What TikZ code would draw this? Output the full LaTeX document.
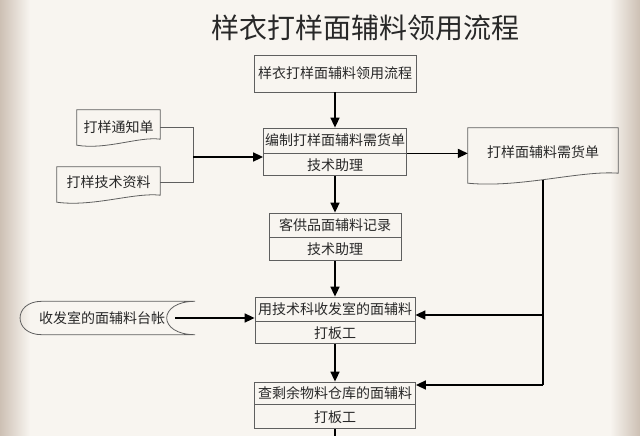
\documentclass[tikz,border=0pt]{standalone}
\usepackage{fontspec}
\newfontfamily\cjk{Noto Sans CJK SC}
\usepackage{tikz}
\usetikzlibrary{arrows.meta,positioning,calc}
\definecolor{paper}{RGB}{248,245,240}
\definecolor{shade}{RGB}{205,192,180}
\definecolor{edge}{RGB}{95,95,95}
\definecolor{ink}{RGB}{40,40,40}
\newcommand{\docoutline}[3]{%
  \draw [docline] (#1.north west) -- (#1.north east) -- ([yshift=#3]#1.south east)
    .. controls ([yshift=#3+3pt]$(#1.south west)!0.75!(#1.south east)$) and ([yshift=-#2-5pt]$(#1.south west)!0.35!(#1.south east)$) .. ([yshift=-#2]#1.south west) -- cycle;}

\begin{document}
\begin{tikzpicture}
[x=1pt,y=-1pt,
box/.style={draw=edge,line width=0.8pt,inner sep=0pt,text=ink,font={\cjk\fontsize{14}{16}\selectfont}},
doc/.style={inner sep=0pt,text=ink,font={\cjk\fontsize{14}{16}\selectfont}},
title/.style={text=ink,font={\cjk\fontsize{28}{32}\selectfont}},
docline/.style={draw=edge,line width=0.8pt},
link/.style={draw=edge,line width=0.8pt},
thickline/.style={draw=black,line width=1.6pt},
arrow/.style={draw=black,line width=1.6pt,-{Triangle[length=10pt,width=9pt]}}]
\fill [paper] (0,0) rectangle (640,436);
\shade [left color=shade,right color=paper] (0,0) rectangle (30,436);
\shade [left color=paper,right color=shade] (610,0) rectangle (640,436);
\useasboundingbox (0,0) rectangle (640,436);

\node[title] (t0) at (365,28) {样衣打样面辅料领用流程};

\node[box,minimum width=162pt,minimum height=37pt] (m1) at (335,73.5) {样衣打样面辅料领用流程};
\node[box,minimum width=143pt,minimum height=25pt] (m2) at (335,140.5) {编制打样面辅料需货单};
\node[box,minimum width=143pt,minimum height=22pt,below=0pt of m2] (m2b) {技术助理};
\node[box,minimum width=132pt,minimum height=24pt] (m3) at (335,225) {客供品面辅料记录};
\node[box,minimum width=132pt,minimum height=23pt,below=0pt of m3] (m3b) {技术助理};
\node[box,minimum width=160pt,minimum height=24pt] (m4) at (335,309) {用技术科收发室的面辅料};
\node[box,minimum width=160pt,minimum height=22pt,below=0pt of m4] (m4b) {打板工};
\node[box,minimum width=161pt,minimum height=22pt] (m5) at (335,393) {查剩余物料仓库的面辅料};
\node[box,minimum width=161pt,minimum height=24pt,below=0pt of m5] (m5b) {打板工};

\node[doc,minimum width=83pt,minimum height=34pt] (l1) at (118.5,127) {打样通知单};
\docoutline{l1}{1pt}{5pt}
\node[doc,minimum width=103pt,minimum height=30pt] (l2) at (108.5,182) {打样技术资料};
\docoutline{l2}{5pt}{2pt}
\node[doc,minimum width=150pt,minimum height=48pt] (r1) at (543,152) {打样面辅料需货单};
\docoutline{r1}{7pt}{3pt}
\node[doc,minimum width=164pt,minimum height=33pt] (l3) at (102,318) {收发室的面辅料台帐};
\draw [docline] ([xshift=22pt]l3.north west) -- ([xshift=11pt]l3.north east)
  .. controls ([xshift=-27pt]l3.north east) and ([xshift=-27pt]l3.south east) .. ([xshift=11pt]l3.south east)
  -- ([xshift=22pt]l3.south west)
  .. controls ([xshift=-7pt]l3.south west) and ([xshift=-7pt]l3.north west) .. cycle;

\coordinate (j1) at (193,157);
\coordinate (j2) at (543,315);
\coordinate (j3) at (543,385);
\coordinate (end) at (335,436);

\draw [arrow] (m1) -- (m2);
\draw [arrow] (m2b) -- (m3);
\draw [arrow] (m3b) -- (m4);
\draw [arrow] (m4b) -- (m5);
\draw [thickline] (m5b) -- (end);

\draw [link] (l1) -| (j1);
\draw [link] (l2) -| (j1);
\draw [arrow] (j1) -- (j1 -| m2b.west);
\draw [arrow] (m2.south east) -- (m2.south east -| r1.west);
\draw [thickline] ([yshift=-4pt]r1.south) -- (j3);
\draw [arrow] (j2) -- (j2 -| m4.east);
\draw [arrow] (j3) -- (j3 -| m5.east);
\draw [arrow] ([xshift=-9pt]l3.east) -- (l3.east -| m4.west);
\end{tikzpicture}
\end{document}
